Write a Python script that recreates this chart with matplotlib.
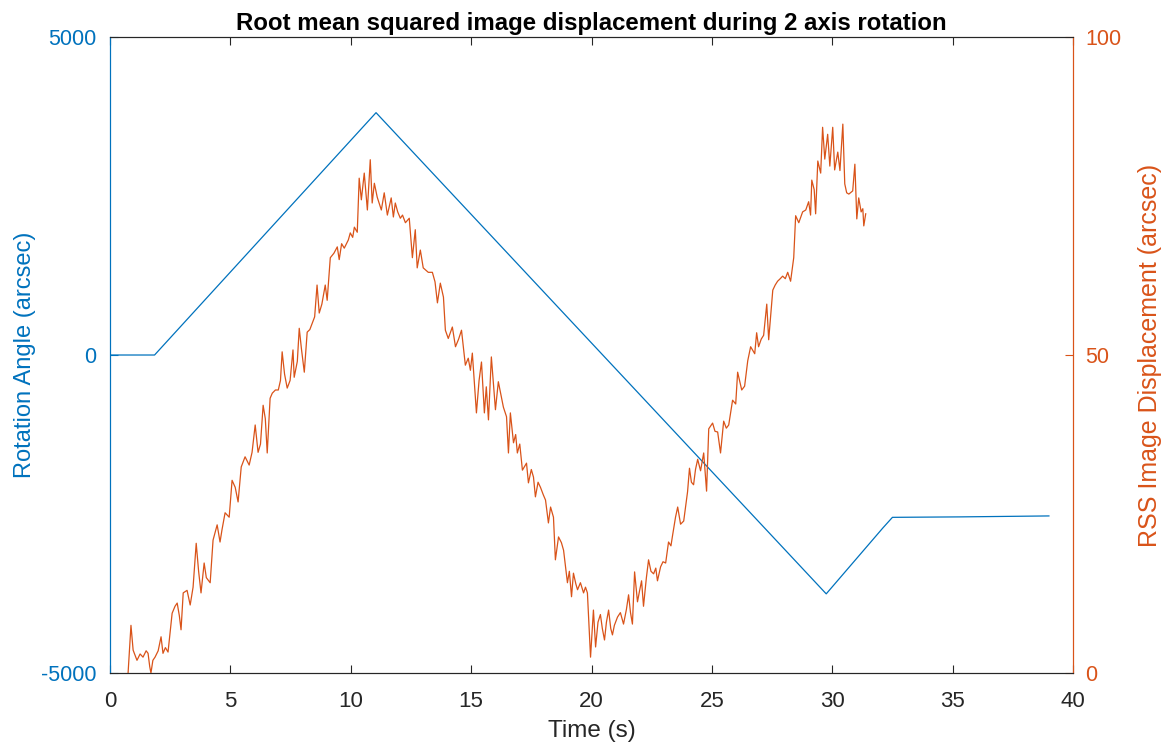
import matplotlib
matplotlib.use("Agg")
import matplotlib.pyplot as plt

plt.rcParams['font.family'] = ['Liberation Sans', 'DejaVu Sans']
plt.rcParams['axes.unicode_minus'] = False

BLUE = '#0072BD'
ORANGE = '#D95319'
DARK = '#262626'

# commanded rotation angle (arcsec), piecewise ramp
angle_t = [0.0, 1.85, 11.05, 29.75, 32.1, 32.5, 35.3, 39.0]
angle_v = [0, 0, 3810, -3755, -2720, -2552, -2545, -2530]

# RSS image displacement (arcsec)
rss_t = [
    0.75, 0.87, 0.96, 1.12, 1.25, 1.37, 1.5, 1.58, 1.65, 1.70, 1.78, 1.87,
    2.0, 2.12, 2.2, 2.3, 2.41, 2.58, 2.7, 2.79, 2.88, 2.95, 3.04, 3.2,
    3.33, 3.45, 3.58, 3.68, 3.78, 3.91, 4.0, 4.16, 4.28, 4.45, 4.57, 4.65,
    4.78, 4.95, 5.07, 5.2, 5.32, 5.45, 5.61, 5.78, 5.9, 6.03, 6.15, 6.25,
    6.36, 6.45, 6.53, 6.65, 6.74, 6.87, 6.99, 7.08, 7.15, 7.25, 7.36, 7.48,
    7.6, 7.65, 7.78, 7.86, 7.95, 8.07, 8.19, 8.3, 8.4, 8.5, 8.6, 8.69,
    8.8, 8.94, 9.02, 9.15, 9.3, 9.44, 9.52, 9.62, 9.73, 9.82, 9.9, 9.98,
    10.08, 10.15, 10.27, 10.35, 10.44, 10.56, 10.69, 10.81, 10.89, 10.98, 11.1, 11.27,
    11.39, 11.52, 11.68, 11.77, 11.85, 11.95, 12.06, 12.15, 12.27, 12.43, 12.56, 12.68,
    12.76, 12.89, 13.01, 13.22, 13.39, 13.5, 13.6, 13.72, 13.85, 13.93, 14.05, 14.22,
    14.35, 14.48, 14.6, 14.76, 14.88, 14.97, 15.05, 15.22, 15.33, 15.43, 15.55, 15.63,
    15.72, 15.84, 16.01, 16.13, 16.25, 16.34, 16.47, 16.55, 16.63, 16.76, 16.85, 16.92,
    17.02, 17.13, 17.3, 17.38, 17.5, 17.59, 17.67, 17.78, 17.88, 18.0, 18.09, 18.21,
    18.3, 18.42, 18.5, 18.63, 18.75, 18.84, 19.0, 19.08, 19.17, 19.25, 19.35, 19.42,
    19.54, 19.67, 19.75, 19.83, 19.96, 20.08, 20.17, 20.27, 20.37, 20.45, 20.54, 20.62,
    20.71, 20.8, 20.87, 20.95, 21.08, 21.2, 21.33, 21.45, 21.54, 21.62, 21.7, 21.79,
    21.91, 22.0, 22.08, 22.16, 22.28, 22.37, 22.47, 22.58, 22.67, 22.74, 22.87, 22.97,
    23.08, 23.2, 23.3, 23.37, 23.49, 23.58, 23.7, 23.83, 23.99, 24.07, 24.15, 24.24,
    24.32, 24.41, 24.53, 24.66, 24.78, 24.87, 25.03, 25.13, 25.24, 25.36, 25.49, 25.6,
    25.7, 25.86, 25.99, 26.07, 26.24, 26.36, 26.49, 26.61, 26.78, 26.86, 26.94, 27.05,
    27.15, 27.28, 27.36, 27.53, 27.63, 27.73, 27.84, 27.94, 28.05, 28.15, 28.27, 28.4,
    28.48, 28.61, 28.77, 28.9, 29.02, 29.1, 29.15, 29.25, 29.31, 29.4, 29.52, 29.6,
    29.69, 29.81, 29.9, 30.02, 30.1, 30.23, 30.32, 30.44, 30.52, 30.6, 30.69, 30.85,
    30.94, 31.02, 31.1, 31.2, 31.27, 31.31, 31.39,
]
rss_v = [
    0.0, 7.5, 3.6, 2.0, 3.0, 2.5, 3.5, 3.1, 1.0, 0.0, 2.0, 2.5,
    3.5, 5.7, 3.1, 4.0, 3.3, 9.4, 10.5, 11.0, 9.0, 6.8, 12.6, 13.0,
    10.7, 13.5, 20.4, 16.0, 12.6, 17.3, 15.0, 14.2, 20.9, 23.3, 20.6, 22.5,
    25.2, 24.5, 30.3, 29.2, 26.9, 32.4, 34.0, 32.7, 34.7, 39.0, 34.7, 36.0,
    42.1, 40.0, 34.6, 43.2, 44.0, 44.5, 44.5, 46.0, 50.5, 47.0, 44.8, 46.0,
    50.8, 46.5, 49.0, 54.2, 51.0, 47.3, 53.6, 54.0, 55.0, 56.0, 61.0, 56.6,
    58.0, 61.0, 58.6, 65.3, 66.0, 67.0, 65.0, 67.5, 66.8, 67.5, 68.1, 69.2,
    68.5, 70.1, 69.3, 77.8, 74.4, 78.6, 72.8, 80.7, 73.9, 77.0, 74.8, 72.8,
    75.5, 72.0, 74.7, 71.7, 73.9, 72.5, 71.5, 72.0, 70.8, 71.5, 65.3, 69.7,
    63.7, 66.5, 63.7, 63.0, 63.0, 61.5, 58.2, 61.3, 59.1, 53.9, 52.6, 54.4,
    51.3, 52.5, 53.9, 48.4, 49.5, 47.6, 50.3, 40.9, 46.0, 48.9, 40.9, 45.0,
    39.8, 49.7, 41.4, 45.8, 43.5, 41.8, 40.3, 34.6, 40.9, 36.2, 37.5, 34.6,
    36.0, 31.9, 33.0, 29.9, 32.0, 30.8, 27.7, 30.0, 29.2, 28.0, 27.2, 23.6,
    26.1, 24.5, 17.8, 21.4, 20.5, 19.3, 14.2, 16.0, 12.0, 15.7, 14.0, 13.1,
    14.2, 12.6, 13.5, 12.6, 2.5, 9.9, 4.1, 8.0, 9.2, 7.0, 5.2, 8.0,
    9.9, 7.0, 6.0, 7.5, 8.8, 9.5, 7.7, 10.0, 12.3, 9.5, 7.7, 15.9,
    11.2, 13.0, 14.5, 10.5, 15.0, 17.8, 16.0, 15.6, 16.5, 14.5, 16.7, 17.5,
    17.3, 20.6, 20.0, 21.7, 24.5, 26.1, 23.4, 23.9, 28.5, 32.2, 30.0, 29.6,
    32.0, 33.6, 31.8, 34.6, 28.6, 38.4, 39.3, 38.0, 37.9, 34.6, 39.6, 38.5,
    39.0, 42.9, 42.3, 47.3, 44.5, 45.1, 49.1, 51.3, 50.2, 53.5, 51.3, 52.5,
    53.1, 58.0, 52.4, 60.2, 61.0, 61.6, 62.0, 62.4, 62.0, 63.0, 61.6, 65.3,
    71.9, 70.8, 72.5, 72.8, 74.1, 72.0, 77.5, 76.0, 72.2, 80.5, 78.6, 85.8,
    80.8, 84.7, 79.7, 85.8, 79.1, 81.9, 79.0, 86.3, 76.9, 75.5, 75.3, 75.8,
    80.0, 71.4, 74.7, 72.5, 73.0, 70.3, 72.2,
]

x_ticks = [0, 5, 10, 15, 20, 25, 30, 35, 40]
left_ticks = [-5000, 0, 5000]
right_ticks = [0, 50, 100]

fig = plt.figure(figsize=(11.63, 7.47), dpi=100)
ax = fig.add_axes([0.0946, 0.099, 0.828, 0.8515])
ax2 = ax.twinx()

ax.plot(angle_t, angle_v, color=BLUE, lw=0.9)
ax2.plot(rss_t, rss_v, color=ORANGE, lw=0.9)

ax.set_xlim(0, 40)
ax.set_ylim(-5000, 5000)
ax2.set_ylim(0, 100)
ax.set_xticks(x_ticks)
ax.set_yticks(left_ticks)
ax2.set_yticks(right_ticks)

ax.tick_params(axis='x', direction='in', top=True, length=6, width=0.8,
               colors=DARK, labelsize=16, pad=13)
ax.tick_params(axis='y', direction='in', length=6, width=0.8,
               colors=BLUE, labelsize=15.5, pad=10)
ax2.tick_params(axis='y', direction='in', length=6, width=0.8,
                colors=ORANGE, labelsize=15.5, pad=9)

for a in (ax, ax2):
    a.spines['top'].set_color(DARK)
    a.spines['bottom'].set_color(DARK)
    a.spines['left'].set_color(BLUE)
    a.spines['right'].set_color(ORANGE)
    for s in a.spines.values():
        s.set_linewidth(0.8)

ax.set_xlabel('Time (s)', fontsize=17.5, color=DARK, labelpad=6)
ax.set_ylabel('Rotation Angle (arcsec)', fontsize=17, color=BLUE, labelpad=3.5)
ax2.set_ylabel('RSS Image Displacement (arcsec)', fontsize=18, color=ORANGE,
               labelpad=12)
ax.set_title('Root mean squared image displacement during 2 axis rotation',
             fontsize=17.3, fontweight='bold', color='black', pad=5)

fig.savefig('out.png', dpi=100)
